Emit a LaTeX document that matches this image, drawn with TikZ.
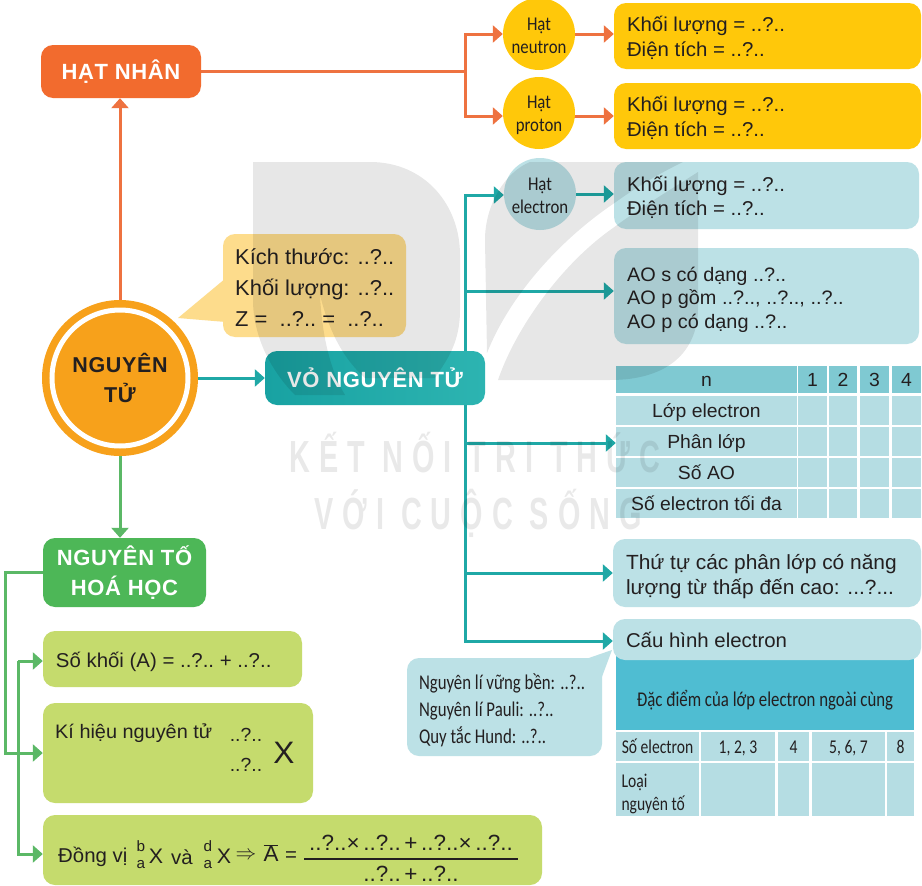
\documentclass[tikz,border=0pt]{standalone}
\usepackage{fontspec}
\setmainfont[FakeStretch=1.02]{Liberation Sans}
\newfontfamily\narrowf[FakeStretch=0.86]{Carlito}
\newfontfamily\slimf[FakeStretch=0.8]{Carlito}
\newfontfamily\headf[LetterSpace=3]{Liberation Sans}
\newfontfamily\wmf[FakeStretch=0.64,LetterSpace=20]{Liberation Sans}
\usetikzlibrary{arrows.meta,backgrounds}
\definecolor{inkc}{HTML}{231F20}
\definecolor{redc}{HTML}{F26B2E}
\definecolor{redl}{HTML}{EE7240}
\definecolor{yelc}{HTML}{FFC80A}
\definecolor{tealc}{HTML}{1FA8A6}
\definecolor{teala}{HTML}{18A2A2}
\definecolor{tealb}{HTML}{2DB4B1}
\definecolor{bluec}{HTML}{BCE1E6}
\definecolor{cellc}{HTML}{B5DDE3}
\definecolor{headc}{HTML}{7FC9D2}
\definecolor{deepc}{HTML}{4FBDD2}
\definecolor{greenc}{HTML}{4DB757}
\definecolor{greenl}{HTML}{5BB866}
\definecolor{limec}{HTML}{C5DB6D}
\definecolor{orgc}{HTML}{F7A11B}
\definecolor{sandc}{HTML}{FDDC8C}
\tikzset{
  x=1pt,y=-1pt,
  rbox/.style={rectangle,rounded corners=12pt,inner sep=0pt,text=inkc},
  sqbox/.style={rectangle,inner sep=0pt,text=inkc},
  head/.style={font=\headf\fontsize{22}{30}\selectfont\bfseries,align=flush center,text=white},
  body/.style={font=\fontsize{20}{24.5}\selectfont,align=flush left},
  dot/.style={circle,inner sep=0pt,minimum size=72pt,align=flush center,text=inkc,font=\narrowf\fontsize{19.5}{23}\selectfont},
  cellt/.style={font=\fontsize{19}{23}\selectfont,text height=15pt,text depth=2pt},
  celln/.style={font=\slimf\fontsize{19.5}{27}\selectfont,align=flush center},
  srow/.style={celln,text height=14pt,text depth=0pt},
  plain/.style={inner sep=0pt,text=inkc},
  cn/.style={line width=3pt,-{Triangle[length=10pt,width=17pt]}},
  cnp/.style={line width=3pt},
}
% \shapebox[options]{name}{x1}{y1}{x2}{y2}{text}
\newcommand{\shapebox}[7][]{%
  \pgfmathsetmacro{\myCx}{(#3+#5)/2}%
  \pgfmathsetmacro{\myCy}{(#4+#6)/2}%
  \pgfmathsetmacro{\myW}{#5-#3}%
  \pgfmathsetmacro{\myH}{#6-#4}%
  \node[minimum width=\myW pt,minimum height=\myH pt,#1] (#2) at (\myCx,\myCy) {#7};}
% left-aligned text in a box: \textbox[options]{name}{x1}{y1}{x2}{y2}{text}
\newcommand{\textbox}[7][]{%
  \pgfmathsetmacro{\myCx}{(#3+#5)/2}%
  \pgfmathsetmacro{\myCy}{(#4+#6)/2}%
  \pgfmathsetmacro{\myW}{#5-#3}%
  \pgfmathsetmacro{\myH}{#6-#4}%
  \pgfmathsetmacro{\myT}{#5-#3-26}%
  \node[rbox,body,minimum width=\myW pt,minimum height=\myH pt,text width=\myT pt,#1] (#2) at (\myCx,\myCy) {#7};}
\newcommand{\qq}{..?..}
\newcommand{\up}[1]{\rule{0pt}{#1pt}}
\begin{document}
\begin{tikzpicture}
\begin{pgfonlayer}{background}
\fill[white] (0,0) rectangle (922,886);
\end{pgfonlayer}
\useasboundingbox (0,0) rectangle (922,886);

% ---- top group
\shapebox[rbox,head,fill=redc]{nhan}{41}{45}{201}{98}{HẠT NHÂN}
\node[dot,fill=yelc] (neutron) at (539,34) {\up{17}Hạt\\neutron};
\node[dot,fill=yelc] (proton) at (539,113) {\up{17}Hạt\\proton};
\node[dot,fill=bluec] (electron) at (540,194) {\up{17}Hạt\\electron};
\textbox[fill=yelc]{ky1}{614}{3}{921}{69}{\up{19}Khối lượng = \qq\\Điện tích = \qq}
\textbox[fill=yelc]{ky2}{614}{83}{921}{149}{\up{19}Khối lượng = \qq\\Điện tích = \qq}
\textbox[fill=bluec]{ke}{614}{162}{919}{229}{\up{19}Khối lượng = \qq\\Điện tích = \qq}
\textbox[fill=bluec,font=\fontsize{19.5}{23.5}\selectfont]{ao}{614}{248}{919}{344}{\up{22}AO s có dạng \qq\\AO p gồm \qq, \qq, \qq\\AO p có dạng \qq}

% ---- centre
\node[circle,fill=orgc,inner sep=0pt,minimum size=156pt] (atom) at (120,378) {};
\node[circle,draw=white,line width=5pt,inner sep=0pt,minimum size=136pt,align=flush center,text=inkc,font=\headf\fontsize{21.5}{30}\selectfont\bfseries] (atomt) at (atom) {NGUYÊN\\TỬ};
\shapebox[rbox,fill=sandc]{sand}{223}{234}{406}{337}{}
\node[anchor=west,plain,align=flush left,font=\fontsize{21.5}{31}\selectfont] (sandt) at (235,288) {Kích thước: \qq\\Khối lượng: \qq\\Z = \ \qq\ = \ \qq};
\shapebox[rbox,head,left color=teala,right color=tealb]{vo}{265}{351}{485}{405}{VỎ NGUYÊN TỬ}
\shapebox[rbox,head,fill=greenc]{nto}{43}{538}{206}{607}{NGUYÊN TỐ\\HOÁ HỌC}

% ---- shell table
\shapebox[sqbox,cellt,fill=headc]{tn}{616}{366}{797}{393}{n}
\shapebox[sqbox,cellt,fill=headc]{tna}{798}{366}{827}{393}{1}
\shapebox[sqbox,cellt,fill=headc]{tnb}{829}{366}{857}{393}{2}
\shapebox[sqbox,cellt,fill=headc]{tnc}{860}{366}{889}{393}{3}
\shapebox[sqbox,cellt,fill=headc]{tnd}{892}{366}{921}{393}{4}
\shapebox[sqbox,cellt,fill=cellc]{tr1}{616}{396}{797}{425}{Lớp electron}
\shapebox[sqbox,cellt,fill=cellc]{tr2}{616}{427}{797}{456}{Phân lớp}
\shapebox[sqbox,cellt,fill=cellc]{tr3}{616}{458}{797}{487}{Số AO}
\shapebox[sqbox,cellt,fill=cellc]{tr4}{616}{489}{797}{518}{Số electron tối đa}
\foreach \ya/\yb/\rn in {396/425/p,427/456/q,458/487/r,489/518/s}{
  \shapebox[sqbox,fill=cellc]{c\rn a}{798}{\ya}{827}{\yb}{}
  \shapebox[sqbox,fill=cellc]{c\rn b}{829}{\ya}{857}{\yb}{}
  \shapebox[sqbox,fill=cellc]{c\rn c}{860}{\ya}{889}{\yb}{}
  \shapebox[sqbox,fill=cellc]{c\rn d}{892}{\ya}{921}{\yb}{}
}

% ---- lower right
\textbox[fill=bluec,font=\fontsize{20.5}{25}\selectfont]{order}{613}{539}{921}{607}{\up{23}Thứ tự các phân lớp có năng\\lượng từ thấp đến cao: ...?...}
\shapebox[sqbox,fill=deepc,celln,font=\slimf\fontsize{21}{25}\selectfont]{dac}{616}{654}{914}{730}{\up{33}Đặc điểm của lớp electron ngoài cùng}
\textbox[fill=bluec]{cauhinh}{613}{619}{921}{660}{Cấu hình electron}
\shapebox[sqbox,srow,fill=cellc]{s0}{616}{732}{699}{761}{Số electron}
\shapebox[sqbox,srow,fill=cellc]{s1}{701}{732}{775}{761}{1, 2, 3}
\shapebox[sqbox,srow,fill=cellc]{s2}{778}{732}{809}{761}{4}
\shapebox[sqbox,srow,fill=cellc]{s3}{812}{732}{885}{761}{5, 6, 7}
\shapebox[sqbox,srow,fill=cellc]{s4}{887}{732}{914}{761}{8}
\shapebox[sqbox,celln,fill=cellc,text width=72pt,align=flush left]{l0}{616}{763}{699}{816}{\up{22}Loại\\[-4pt]nguyên tố}
\shapebox[sqbox,fill=cellc]{l1}{701}{763}{775}{816}{}
\shapebox[sqbox,fill=cellc]{l2}{778}{763}{809}{816}{}
\shapebox[sqbox,fill=cellc]{l3}{812}{763}{885}{816}{}
\shapebox[sqbox,fill=cellc]{l4}{887}{763}{914}{816}{}
\textbox[fill=bluec,font=\slimf\fontsize{21}{27}\selectfont,text width=171pt]{rules}{407}{658}{602}{756}{\up{23}Nguyên lí vững bền: \qq\\Nguyên lí Pauli: \qq\\Quy tắc Hund: \qq}

% ---- lower left
\textbox[fill=limec]{sokhoi}{43}{631}{302}{687}{\up{21}Số khối (A) = \qq\ + \qq}
\shapebox[rbox,fill=limec]{kihieu}{43}{703}{313}{803}{}
\node[anchor=west,plain,font=\fontsize{19.5}{24}\selectfont] (kt) at (55,733) {Kí hiệu nguyên tử};
\node[plain,font=\fontsize{19}{24}\selectfont] (ka) at (246,735) {\qq};
\node[plain,font=\fontsize{19}{24}\selectfont] (kz) at (246,765) {\qq};
\node[plain,font=\fontsize{31}{31}\selectfont] (kx) at (284,753) {X};
\shapebox[rbox,fill=limec]{dongvi}{43}{815}{542}{885}{}
\node[anchor=west,plain,font=\fontsize{20}{24}\selectfont] (dv) at (58,857) {Đồng vị};
\node[plain,font=\fontsize{15}{15}\selectfont] (isob) at (141,846) {b};
\node[plain,font=\fontsize{15}{15}\selectfont] (isoa) at (141,865) {a};
\node[plain,font=\fontsize{21}{21}\selectfont] (isox) at (156,856) {X};
\node[plain,font=\fontsize{20}{21}\selectfont] (va) at (182,857) {và};
\node[plain,font=\fontsize{15}{15}\selectfont] (isod) at (208,846) {d};
\node[plain,font=\fontsize{15}{15}\selectfont] (isoc) at (208,865) {a};
\node[plain,font=\fontsize{21}{21}\selectfont] (isoy) at (224,856) {X};
\node[plain,font=\fontsize{21}{21}\selectfont] (impl) at (246,856) {$\Rightarrow$};
\node[plain,font=\fontsize{22}{22}\selectfont] (abar) at (271,853) {$\overline{\hbox{A}}$};
\node[plain,font=\fontsize{20}{21}\selectfont] (eq) at (291,857) {=};
\node[plain,font=\fontsize{22}{24}\selectfont] (frac) at (411,858) {$\displaystyle{\hbox to 214pt{\hfil\qq×\,\qq\,+\,\qq×\,\qq\hfil} \above 2pt \hbox{\qq\,+\,\qq}}$};

% ---- connectors and bubble tails, behind the boxes
\begin{pgfonlayer}{background}
  \fill[sandc] (178,318) -- (226,278) -- (226,322) -- cycle;
  \fill[bluec] (612,650) -- (583,660) -- (600,682) -- cycle;
  % red
  \draw[cn,redl] (atom) -- (atom |- nhan.south);
  \coordinate (rj) at (465,71);
  \draw[cnp,redl] (nhan.east |- rj) -- (rj);
  \coordinate (rb) at (465,116);
  \draw[cn,redl] (rj) |- (neutron.west);
  \draw[cn,redl] (rj) -- (rb) -- (rb -| proton.west);
  \draw[cn,redl] (neutron.east) -- (neutron.east -| ky1.west);
  \coordinate (pb) at (568,116);
  \draw[cn,redl] (pb) -- (pb -| ky2.west);
  % teal
  \draw[cn,tealc] (atom) -- (vo.west);
  \coordinate (tj) at (465,378);
  \coordinate (ta) at (465,195);
  \coordinate (tb) at (465,291);
  \coordinate (tc) at (465,443);
  \coordinate (td) at (465,573);
  \coordinate (te) at (465,641);
  \draw[cn,tealc] (tj) -- (ta) -- (ta -| electron.west);
  \draw[cn,tealc] (electron.east) -- (electron.east -| ke.west);
  \draw[cn,tealc] (tb) -- (tb -| ao.west);
  \draw[cn,tealc] (tc) -- (tc -| tr2.west);
  \draw[cn,tealc] (td) -- (td -| order.west);
  \draw[cn,tealc] (tj) -- (te) -- (te -| cauhinh.west);
  % green
  \draw[cn,greenl] (atom) -- (atom |- nto.north);
  \coordinate (ga) at (43,572);
  \coordinate (gb) at (5,572);
  \coordinate (gc) at (5,753);
  \draw[cn,greenl] (ga) -- (gb) -- (gc) -- (gc -| kihieu.west);
  \coordinate (gd) at (18,661);
  \coordinate (ge) at (18,854);
  \draw[cn,greenl] (gd) -- (gd -| sokhoi.west);
  \draw[cn,greenl] (gd) -- (ge) -- (ge -| dongvi.west);
\end{pgfonlayer}

% ---- watermark, laid over everything
\begin{scope}[fill=black,fill opacity=0.095,text opacity=0.085]
  \fill (253,162) -- (370,162) .. controls (425,162) and (460,205) .. (460,255)
    -- (460,310) .. controls (460,345) and (445,362) .. (435,378) -- (365,378)
    .. controls (345,360) and (330,335) .. (320,295)
    .. controls (322,335) and (330,370) .. (345,395) -- (295,395)
    .. controls (270,370) and (253,335) .. (253,300) -- cycle;
  \fill (530,162) -- (683,162) .. controls (650,178) and (630,192) .. (613,204)
    .. controls (560,240) and (510,295) .. (487,353)
    -- (485,240) .. controls (485,205) and (505,172) .. (530,162) -- cycle;
  \fill (498,380) .. controls (515,330) and (560,265) .. (613,228)
    .. controls (640,208) and (670,190) .. (698,172) -- (698,310)
    .. controls (697,350) and (670,380) .. (610,380) -- cycle;
  \node[inner sep=0pt,font=\wmf\fontsize{45}{45}\selectfont\bfseries] (wm1) at (475,453) {KẾT NỐI TRI THỨC};
  \node[inner sep=0pt,font=\wmf\fontsize{45}{45}\selectfont\bfseries] (wm2) at (478,513) {VỚI CUỘC SỐNG};
\end{scope}
\end{tikzpicture}
\end{document}
